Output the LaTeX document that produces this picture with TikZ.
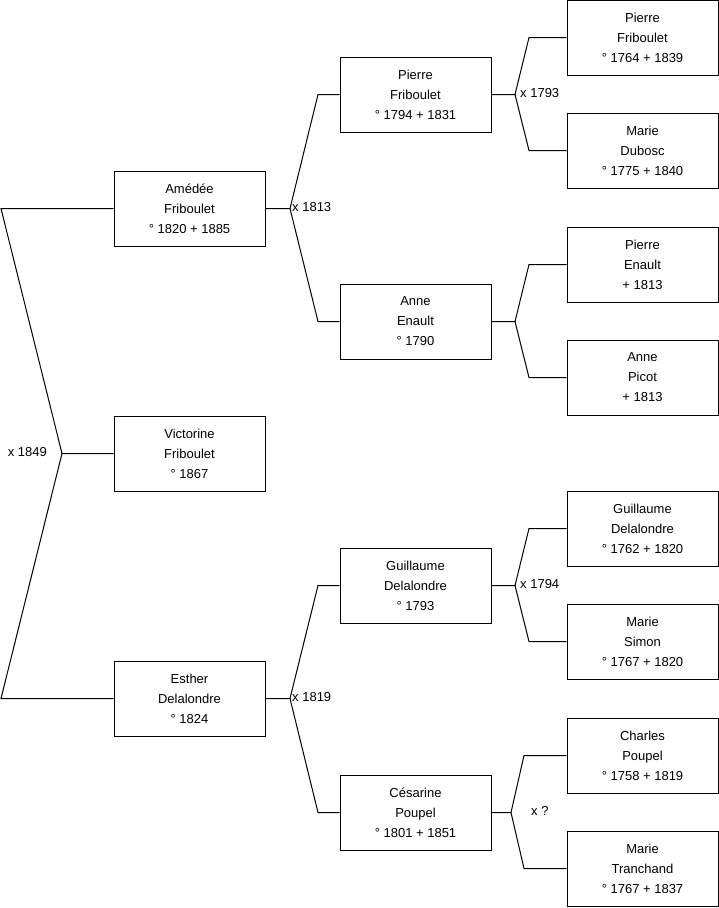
\documentclass[tikz,border=0pt]{standalone}
\usepackage{fontspec}
\setmainfont{Liberation Sans}
\begin{document}
\begin{tikzpicture}[x=1pt,y=-1pt,
  person/.style={draw=black,fill=white,line width=1pt,minimum width=151pt,minimum height=75pt,inner sep=0pt,align=center,font=\fontsize{13}{20}\selectfont},
  link/.style={draw=black,line width=1pt},
  mlabel/.style={inner sep=0pt,font=\fontsize{13}{15}\selectfont}]
\useasboundingbox (0,0) rectangle (719,908);
% junctions and bends
\coordinate (j0) at (62,453.5);
\coordinate (j0a) at (1,208.5);
\coordinate (j0b) at (1,698.5);
\coordinate (j1) at (290,208.5);
\coordinate (j1a) at (318,94.5);
\coordinate (j1b) at (318,321.5);
\coordinate (j2) at (290,698.5);
\coordinate (j2a) at (318,585.5);
\coordinate (j2b) at (318,812.5);
\coordinate (j3) at (515,94.5);
\coordinate (j3a) at (529,37.5);
\coordinate (j3b) at (529,150.5);
\coordinate (j4) at (515,321.5);
\coordinate (j4a) at (529,264.5);
\coordinate (j4b) at (529,377.5);
\coordinate (j5) at (515,585.5);
\coordinate (j5a) at (529,528.5);
\coordinate (j5b) at (529,641.5);
\coordinate (j6) at (511,812.5);
\coordinate (j6a) at (524,755.5);
\coordinate (j6b) at (524,868.5);
% persons
\node[person] (a) at (189.5,208.5) {Amédée\\Friboulet\\° 1820 + 1885};
\node[person] (v) at (189.5,453.5) {Victorine\\Friboulet\\° 1867};
\node[person] (e) at (189.5,698.5) {Esther\\Delalondre\\° 1824};
\node[person] (p) at (415.5,94.5) {Pierre\\Friboulet\\° 1794 + 1831};
\node[person] (an) at (415.5,321.5) {Anne\\Enault\\° 1790};
\node[person] (g) at (415.5,585.5) {Guillaume\\Delalondre\\° 1793};
\node[person] (c) at (415.5,812.5) {Césarine\\Poupel\\° 1801 + 1851};
\node[person] (pp) at (642.5,37.5) {Pierre\\Friboulet\\° 1764 + 1839};
\node[person] (md) at (642.5,150.5) {Marie\\Dubosc\\° 1775 + 1840};
\node[person] (pe) at (642.5,264.5) {Pierre\\Enault\\+ 1813};
\node[person] (ap) at (642.5,377.5) {Anne\\Picot\\+ 1813};
\node[person] (gg) at (642.5,528.5) {Guillaume\\Delalondre\\° 1762 + 1820};
\node[person] (ms) at (642.5,641.5) {Marie\\Simon\\° 1767 + 1820};
\node[person] (ch) at (642.5,755.5) {Charles\\Poupel\\° 1758 + 1819};
\node[person] (mt) at (642.5,868.5) {Marie\\Tranchand\\° 1767 + 1837};
% links
\draw[link] (v.west) -- (j0) -- (j0a) -- (a.west);
\draw[link] (j0) -- (j0b) -- (e.west);
\draw[link] (a.east) -- (j1) -- (j1a) -- (p.west);
\draw[link] (j1) -- (j1b) -- (an.west);
\draw[link] (e.east) -- (j2) -- (j2a) -- (g.west);
\draw[link] (j2) -- (j2b) -- (c.west);
\draw[link] (p.east) -- (j3) -- (j3a) -- (pp.west);
\draw[link] (j3) -- (j3b) -- (md.west);
\draw[link] (an.east) -- (j4) -- (j4a) -- (pe.west);
\draw[link] (j4) -- (j4b) -- (ap.west);
\draw[link] (g.east) -- (j5) -- (j5a) -- (gg.west);
\draw[link] (j5) -- (j5b) -- (ms.west);
\draw[link] (c.east) -- (j6) -- (j6a) -- (ch.west);
\draw[link] (j6) -- (j6b) -- (mt.west);
% marriage labels
\node[mlabel,anchor=east] (l0) at (47,452) {x 1849};
\node[mlabel,anchor=west] (l1) at (292,207) {x 1813};
\node[mlabel,anchor=west] (l2) at (292,697) {x 1819};
\node[mlabel,anchor=west] (l3) at (520,93) {x 1793};
\node[mlabel,anchor=west] (l5) at (520,584) {x 1794};
\node[mlabel,anchor=west] (l6) at (531,811) {x ?};
\end{tikzpicture}
\end{document}
